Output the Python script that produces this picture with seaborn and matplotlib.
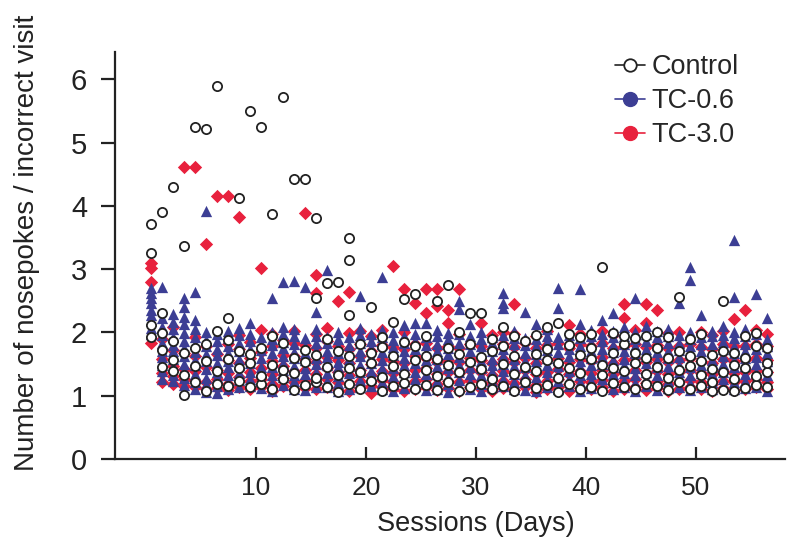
import matplotlib
matplotlib.use("Agg")
import matplotlib.pyplot as plt
import seaborn as sns
import pandas as pd
from matplotlib.lines import Line2D

# ---------------- data (values x 100, one string per session) ----------------
sessions = list(range(1, 58))

control = [
    "193 212 325 371", "146 172 199 230 390", "139 157 186 430", "101 133 168 337",
    "121 147 176 525", "108 155 182 522", "118 139 203 590", "116 158 188 222",
    "124 143 171 413", "113 152 166 550", "119 131 175 525", "110 149 194 387",
    "126 141 183 572", "109 136 160 442", "117 154 172 442", "121 128 165 255 380",
    "113 146 190 278", "106 132 171 280", "119 144 162 227 314 349", "110 138 181",
    "123 151 168 240", "108 129 177 192", "115 147 163 217", "120 134 185 252",
    "111 156 179 260", "117 140 163 194", "109 131 158 249", "122 148 175 275",
    "107 137 166 200", "114 153 182 230", "118 142 161 231", "110 127 171 189",
    "116 150 178 209", "108 135 162 195", "121 145 187", "112 139 166 196",
    "117 157 174 209", "106 128 152 215", "119 143 180 198", "111 136 164 192",
    "114 158 176 197", "108 132 149 304", "120 144 168 199", "113 139 181 194",
    "110 152 167 191", "118 134 160 195", "115 146 176 200", "109 128 159 193",
    "121 141 170 256", "111 147 163 190", "116 133 155 198", "108 122 142 165",
    "109 138 171 249", "108 126 149 168", "112 144 160 195", "117 131 178 199",
    "113 137 152 176",
]

tc06 = [
    "198 207 219 228 236 247 255 263 270", "127 139 148 161 170 184 196 209 222 272",
    "124 133 147 158 171 180 193 205 216 229", "117 128 141 150 163 176 186 199 213 224 240 254",
    "111 122 134 149 157 169 181 193 206 219 264", "106 119 128 142 155 166 179 188 201 392",
    "104 115 129 138 151 164 173 186 197", "110 121 133 146 155 168 178 191 203",
    "113 125 136 149 158 171 183 196 207", "116 127 138 152 161 174 186 197 215",
    "112 124 137 146 159 172 181 193", "108 120 132 145 154 167 180 189 201 255",
    "117 129 140 151 163 176 185 198 209 280", "111 124 133 147 160 169 182 194 206 282",
    "109 121 134 143 157 168 179 191 272", "114 126 137 150 159 172 184 195 206 232",
    "113 124 136 148 161 170 183 193 299", "108 120 131 145 154 167 178 190 201",
    "111 122 136 147 158 171 180 192", "114 125 138 149 162 171 184 196 207 257",
    "116 128 139 152 161 175 186 197", "110 122 135 144 157 169 181 193 204 288",
    "107 119 131 143 152 165 177 188 200", "112 123 137 148 160 171 184 194 212",
    "115 127 138 151 162 173 187 198 215", "109 121 134 145 156 169 180 193 215",
    "111 124 135 147 158 171 182 195 204", "106 118 130 143 152 166 176 189 199",
    "113 125 137 148 161 172 183 197 237 250", "110 122 135 146 157 170 181 194 214",
    "108 119 132 144 155 168 179 190 201", "113 124 137 149 158 171 184 193",
    "115 126 139 150 162 174 185 196 238 246 262", "111 122 134 147 158 169 182 191 203",
    "109 121 133 146 155 168 180 191 233", "107 119 130 143 155 166 178 189 213",
    "114 125 137 149 160 172 185 194 206", "111 123 134 147 156 169 181 192 238 270",
    "115 126 139 150 163 174 186 196", "108 121 132 145 155 168 179 191 213 268",
    "112 124 135 148 160 171 183 195 204", "114 126 137 150 161 173 186 197 219",
    "110 122 134 146 157 169 180 192 202 230", "113 124 136 149 158 171 182 195 208",
    "108 120 133 144 156 167 179 190 200 255", "115 127 138 151 163 173 186 197 210",
    "109 122 133 146 157 169 180 192 203", "112 123 136 147 160 170 183 195 205",
    "114 126 137 149 161 172 184 196 246", "109 120 132 145 154 167 178 190 200 283 303",
    "113 124 136 148 159 171 182 193 227", "111 122 135 146 157 169 181 194 203",
    "115 127 138 150 162 173 185 196 210", "110 121 133 145 156 168 179 191 201 256 346",
    "112 123 135 147 159 170 182 194 205", "114 126 137 150 161 173 184 197 261",
    "108 120 132 144 155 167 179 190 222",
]

tc30 = [
    "183 280 302 309", "122 136 158 189", "118 131 147 172 208", "115 127 142 168 461",
    "113 124 139 163 192 461", "110 121 145 178 339", "112 126 140 166 415", "109 118 136 157 182 415",
    "114 129 151 174 196 382", "111 123 138 160 185", "113 127 143 169 204 301", "108 119 134 155 178 198",
    "115 128 147 165 188", "111 122 139 162 183 203", "112 125 141 158 180 388", "110 120 135 153 176 198 262 291",
    "114 126 144 161 186 207", "109 121 137 156 179 250", "107 118 133 152 174 199 264", "112 124 141 163 182 203",
    "105 116 132 150 171 194", "113 125 139 158 180 204", "110 122 136 155 177 305", "108 120 134 152 174 200 268",
    "111 124 140 162 181 247", "114 127 143 160 183 230 268", "109 119 135 154 175 241 268", "112 123 138 157 179 215 235",
    "107 121 136 153 176 198 268", "113 125 140 159 182", "110 122 137 156 178 215", "108 118 133 151 173 196",
    "112 124 139 158 181 201", "109 120 136 154 177 198 245", "113 126 141 160 183", "106 117 134 152 175 195",
    "111 123 138 157 180 202", "114 127 142 159 184", "108 119 135 153 176 212", "112 124 139 158 181 198",
    "110 121 136 155 178", "113 125 140 161 183 203", "107 118 134 152 175 196", "111 123 138 156 179 223 245",
    "114 126 141 160 182 204", "109 120 136 154 177 215 245", "112 124 139 158 180 235", "108 119 135 153 176 199",
    "111 122 137 157 178 201", "113 125 140 159 182", "110 121 136 155 177 200", "107 118 134 152 174 196",
    "112 124 139 158 181 203", "109 121 136 155 178 221", "111 123 138 157 179 236", "113 126 141 160 182 204",
    "110 122 137 156 179 198",
]

groups = ["Control", "TC-0.6", "TC-3.0"]
x_ticks = [10, 20, 30, 40, 50]
y_ticks = [0, 1, 2, 3, 4, 5, 6]

# ---------------- long table ----------------
recs = []
for g, rows in zip(groups, [control, tc06, tc30]):
    for s, row in zip(sessions, rows):
        for v in row.split():
            recs.append((g, s, int(v) / 100.0))
df = pd.DataFrame(recs, columns=["group", "session", "value"])
df["xpos"] = df["session"] - 0.5

BLUE = "#3c3e94"
RED = "#e8213d"
INK = "#222222"

sns.set_theme(style="ticks")
plt.rcParams["font.family"] = ["Liberation Sans", "DejaVu Sans"]

fig = plt.figure(figsize=(7.9, 5.39), dpi=100)
ax = fig.add_axes([115 / 790, 1 - 459 / 539, (785 - 115) / 790, (459 - 52) / 539])

sns.scatterplot(data=df[df.group == "TC-3.0"], x="xpos", y="value", marker="D",
                color=RED, s=46, linewidth=0, ax=ax, legend=False, zorder=2)
sns.scatterplot(data=df[df.group == "TC-0.6"], x="xpos", y="value", marker="^",
                color=BLUE, s=66, linewidth=0, ax=ax, legend=False, zorder=3)
sns.scatterplot(data=df[df.group == "Control"], x="xpos", y="value", marker="o",
                facecolor="white", edgecolor=INK, s=44, linewidth=1.3, ax=ax,
                legend=False, zorder=4)

ax.set_xlim(-2.8, 58.1)
ax.set_ylim(0, 6.43)
ax.set_xticks(x_ticks)
ax.set_yticks(y_ticks)
ax.set_xticklabels([str(t) for t in x_ticks])
ax.set_yticklabels([str(t) for t in y_ticks])
sns.despine(ax=ax)
for sp in ["left", "bottom"]:
    ax.spines[sp].set_linewidth(1.6)
    ax.spines[sp].set_color(INK)
ax.tick_params(axis="x", direction="in", length=9, width=1.6, labelsize=19, pad=12, colors=INK)
ax.tick_params(axis="y", direction="out", length=10, width=1.6, labelsize=21, pad=10, colors=INK)
ax.set_xlabel("Sessions (Days)", fontsize=19.5, color=INK, labelpad=8, x=(476 - 115) / 670)
ax.set_ylabel("Number of nosepokes / incorrect visit", fontsize=20, color=INK,
              labelpad=22, y=0.53)

handles = [
    Line2D([0], [0], color=INK, lw=1.2, marker="o", markerfacecolor="white",
           markeredgecolor=INK, markersize=9, markeredgewidth=1.3),
    Line2D([0], [0], color=BLUE, lw=1.2, marker="o", markerfacecolor=BLUE,
           markeredgecolor=BLUE, markersize=10),
    Line2D([0], [0], color=RED, lw=1.2, marker="o", markerfacecolor=RED,
           markeredgecolor=RED, markersize=10),
]
fig.legend(handles, groups, loc="upper left", bbox_to_anchor=(615 / 790, 1 - 54 / 539),
           frameon=False, fontsize=19.5, handlelength=1.1, handletextpad=0.25,
           labelspacing=0.3, borderpad=0, borderaxespad=0)

fig.savefig("out.png", dpi=100)
